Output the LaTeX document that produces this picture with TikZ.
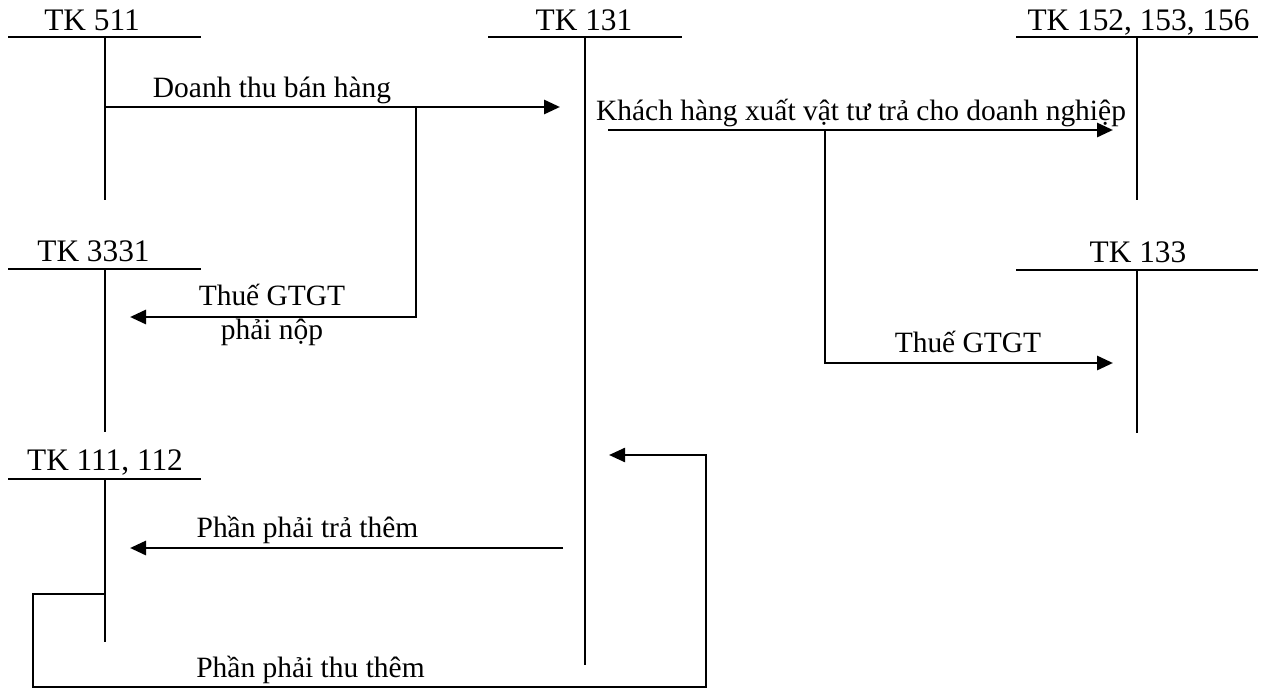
\documentclass[tikz,border=0pt]{standalone}
\usepackage{fontspec}
\setmainfont{Liberation Serif}
\usetikzlibrary{arrows.meta}
\begin{document}
\begin{tikzpicture}[x=0.75pt,y=-0.75pt,
  lbl/.style={anchor=base,inner sep=0pt,font=\fontsize{22.1}{26}\selectfont},
  acct/.style={anchor=base,inner sep=0pt,font=\fontsize{23.5}{28}\selectfont},
  tline/.style={line width=1.7pt},
  flow/.style={line width=2.2pt,-{Triangle[length=12pt,width=10.5pt]}},
  loop/.style={line width=1.8pt,-{Triangle[length=12pt,width=10.5pt]}}]
\useasboundingbox (0,0) rectangle (1271,689);

% T-account TK 511
\node[acct] (t511) at (92,30.5) {TK 511};
\coordinate (t511l) at (8,37);   \coordinate (t511r) at (201,37);
\coordinate (t511t) at (105,37); \coordinate (t511b) at (105,200);
\draw[tline] (t511l) -- (t511r) (t511t) -- (t511b);

% T-account TK 131
\node[acct] (t131) at (584,30.5) {TK 131};
\coordinate (t131l) at (488,37); \coordinate (t131r) at (682,37);
\coordinate (t131t) at (585,37); \coordinate (t131b) at (585,665);
\draw[tline] (t131l) -- (t131r) (t131t) -- (t131b);

% T-account TK 152, 153, 156
\node[acct] (t152) at (1138.5,30.5) {TK 152, 153, 156};
\coordinate (t152l) at (1016,37); \coordinate (t152r) at (1258,37);
\coordinate (t152t) at (1137,37); \coordinate (t152b) at (1137,200);
\draw[tline] (t152l) -- (t152r) (t152t) -- (t152b);

% T-account TK 3331
\node[acct] (t3331) at (93.5,261) {TK 3331};
\coordinate (t3331l) at (8,269);   \coordinate (t3331r) at (201,269);
\coordinate (t3331t) at (105,269); \coordinate (t3331b) at (105,432);
\draw[tline] (t3331l) -- (t3331r) (t3331t) -- (t3331b);

% T-account TK 133
\node[acct] (t133) at (1138,262) {TK 133};
\coordinate (t133l) at (1016,270); \coordinate (t133r) at (1258,270);
\coordinate (t133t) at (1137,270); \coordinate (t133b) at (1137,433);
\draw[tline] (t133l) -- (t133r) (t133t) -- (t133b);

% T-account TK 111, 112
\node[acct] (t111) at (105,470) {TK 111, 112};
\coordinate (t111l) at (8,479);   \coordinate (t111r) at (201,479);
\coordinate (t111t) at (105,479); \coordinate (t111b) at (105,642);
\draw[tline] (t111l) -- (t111r) (t111t) -- (t111b);

% Sales revenue and output VAT
\coordinate (s1) at (105,107); \coordinate (e1) at (560,107);
\draw[flow] (s1) -- (e1);
\node[lbl] (l1) at (272,97) {Doanh thu bán hàng};
\coordinate (s2) at (416,107); \coordinate (e2) at (130,317);
\draw[flow] (s2) |- (e2);
\node[lbl] (l2a) at (272,305) {Thuế GTGT};
\node[lbl] (l2b) at (272,339.5) {phải nộp};

% Goods received from the customer and input VAT
\coordinate (s3) at (608,130); \coordinate (e3) at (1113,130);
\draw[flow] (s3) -- (e3);
\node[lbl] (l3) at (861,120) {Khách hàng xuất vật tư trả cho doanh nghiệp};
\coordinate (s4) at (825,130); \coordinate (e4) at (1113,363);
\draw[flow] (s4) |- (e4);
\node[lbl] (l4) at (968,352) {Thuế GTGT};

% Settlement of the difference
\coordinate (s5) at (563,548); \coordinate (e5) at (130,548);
\draw[flow] (s5) -- (e5);
\node[lbl] (l5) at (307.5,537) {Phần phải trả thêm};

\coordinate (s6) at (105,594);
\coordinate (c6a) at (33,594); \coordinate (c6b) at (33,687);
\coordinate (c6c) at (706,687); \coordinate (c6d) at (706,455);
\coordinate (e6) at (609,455);
\draw[loop] (s6) -- (c6a) -- (c6b) -- (c6c) -- (c6d) -- (e6);
\node[lbl] (l6) at (310.5,677) {Phần phải thu thêm};
\end{tikzpicture}
\end{document}
